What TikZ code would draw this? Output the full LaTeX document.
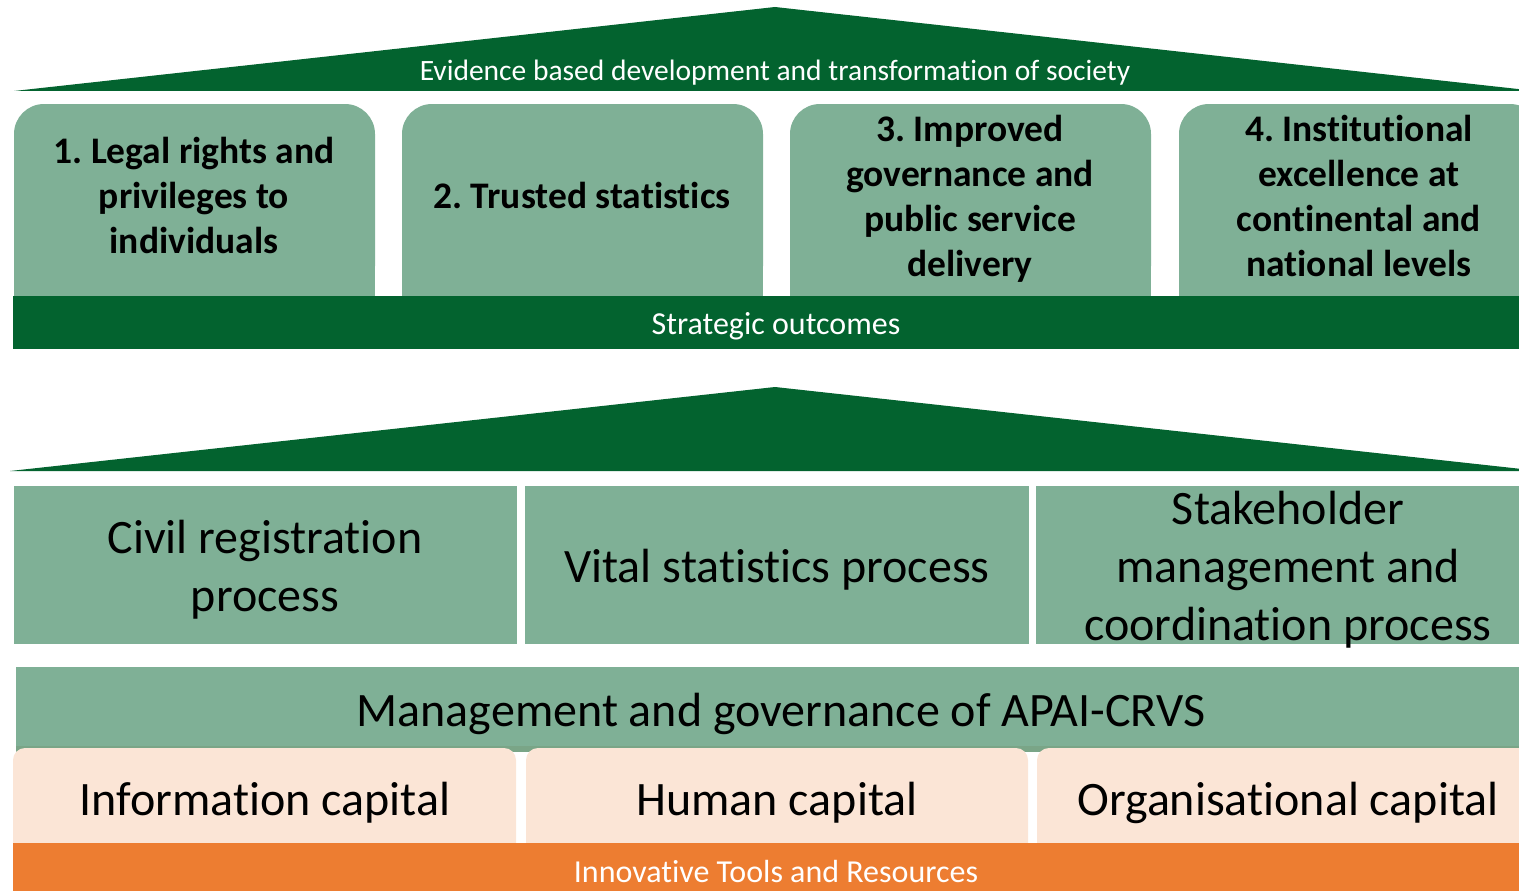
\documentclass[tikz,border=0pt]{standalone}
\usepackage{fontspec}
\setmainfont{Carlito}[Ligatures=NoCommon]
\definecolor{dkgreen}{HTML}{03632F}
\definecolor{ltgreen}{HTML}{7FB096}
\definecolor{peach}{HTML}{FBE5D6}
\definecolor{orangebar}{HTML}{ED7D31}
\definecolor{shadowgreen}{HTML}{7AA587}
\frenchspacing
\begin{document}
\begin{tikzpicture}[x=1pt,y=-1pt,
  roof/.style={fill=dkgreen},
  bandtext/.style={text=white,font=\fontsize{29.5}{35}\selectfont,inner sep=0pt},
  topbox/.style={fill=ltgreen,rounded corners=30pt},
  toptext/.style={align=center,font=\bfseries\fontsize{37.5}{45}\selectfont,inner sep=0pt},
  midbox/.style={fill=ltgreen},
  midtext/.style={align=center,font=\fontsize{48}{58}\selectfont,inner sep=0pt},
  capbox/.style={fill=peach,rounded corners=12pt},
  captext/.style={font=\fontsize{48}{58}\selectfont,inner sep=0pt}]
\useasboundingbox (0,0) rectangle (1519,891);
\clip (0,0) rectangle (1519,891);

% top roof
\fill[roof] (14,91) -- (775,7) -- (1536,91) -- cycle;
\node[bandtext] (roofA) at (775,73) {Evidence based development and transformation of society};

% strategic outcome boxes
\foreach \x/\n in {14/1,402/2,790/3,1179/4}{
  \fill[topbox] (\x,104) rectangle ++(361,192);
  \fill[ltgreen] (\x,160) rectangle ++(361,136);
}
\node[toptext] (o1) at (194,195) {1. Legal rights and\\privileges to\\individuals};
\node[toptext] (o2) at (582,195) {2. Trusted statistics};
\node[toptext] (o3) at (970,199) {3. Improved\\governance and\\public service\\delivery};
\node[toptext] (o4) at (1359,196) {4. Institutional\\excellence at\\continental and\\national levels};

% strategic outcomes bar
\fill[dkgreen] (13,296) rectangle (1540,349);
\node[bandtext,font=\fontsize{32}{38}\selectfont] (so) at (776,326) {Strategic outcomes};

% second roof
\fill[roof] (10,471) -- (775,387) -- (1540,471) -- cycle;

% process boxes
\fill[midbox] (14,486) rectangle (517,644);
\fill[midbox] (525,486) rectangle (1029,644);
\fill[midbox] (1036,486) rectangle (1540,644);
\node[midtext] (p1) at (265,570) {Civil registration\\process};
\node[midtext] (p2) at (777,570) {Vital statistics process};
\node[midtext] (p3) at (1288,570) {Stakeholder\\management and\\coordination process};

% management bar
\fill[ltgreen] (16,667) rectangle (1546,752);
\fill[shadowgreen] (16,746) rectangle (1546,752);
\node[midtext] (mg) at (781,714) {Management and governance of APAI-CRVS};

% capital boxes
\fill[capbox] (13,748) rectangle (516,860);
\fill[capbox] (526,748) rectangle (1028,860);
\fill[capbox] (1037,748) rectangle (1550,860);
\node[captext] (c1) at (265,803) {Information capital};
\node[captext] (c2) at (777,803) {Human capital};
\node[captext] (c3) at (1288,803) {Organisational capital};

% innovative tools bar
\fill[orangebar] (13,843) rectangle (1540,891);
\node[bandtext,font=\fontsize{32}{38}\selectfont] (it) at (776,872) {Innovative Tools and Resources};
\end{tikzpicture}
\end{document}
